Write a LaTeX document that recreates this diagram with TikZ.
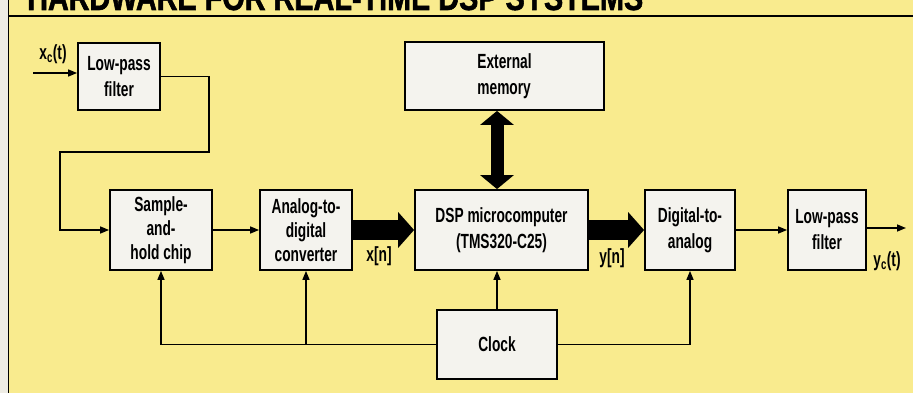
\documentclass[tikz,border=0pt]{standalone}
\usepackage{fontspec}
\newfontfamily\condfont{Liberation Sans}[FakeStretch=0.67]
\newfontfamily\titlefont{Liberation Sans}[FakeStretch=0.8, FakeBold=1.5]
\usetikzlibrary{arrows.meta,calc}
\definecolor{paper}{RGB}{249,235,142}
\definecolor{boxfill}{RGB}{244,243,238}
\definecolor{strip}{RGB}{238,236,228}

\begin{document}
\begin{tikzpicture}[x=1pt, y=-1pt, font=\condfont\bfseries\fontsize{20.5}{26}\selectfont,
		blk/.style={draw, line width=1.8pt, fill=boxfill, align=center, inner sep=0pt},
		sig/.style={line width=1.5pt, -{Triangle[length=9pt,width=7pt]}},
		fat/.style={line width=20pt, -{Triangle[length=16pt,width=35pt]}},
		bus/.style={line width=13pt, {Triangle[length=14pt,width=33pt]}-{Triangle[length=14pt,width=33pt]}}]
		\useasboundingbox (0,0) rectangle (913,393);
		\clip (0,0) rectangle (913,393);
		% page
		\fill[strip] (0,0) rectangle (9,393);
		\fill[paper] (9,0) rectangle (913,393);
		\draw[line width=1.5pt] (8.5,0) -- (8.5,393);
		\draw[line width=1.5pt] (8.5,16) -- (913,16);
		\node[anchor=base west, inner sep=0pt, font=\titlefont\bfseries\fontsize{36}{36}\selectfont] (title) at (27,10) {HARDWARE FOR REAL-TIME DSP SYSTEMS};
		% blocks
		\node[blk, minimum width=82pt, minimum height=67pt] (lpfa) at (119,76.5) {Low-pass\\filter};
		\node[blk, minimum width=199pt, minimum height=68pt, align=left] (mem) at (504.5,76) {External\\memory};
		\node[blk, minimum width=102pt, minimum height=80pt, font=\condfont\bfseries\fontsize{20.5}{24}\selectfont] (sh) at (161,230) {Sample-\\and-\\hold chip};
		\node[blk, minimum width=92pt, minimum height=80pt, font=\condfont\bfseries\fontsize{20.5}{24}\selectfont] (adc) at (306,230) {Analog-to-\\digital\\converter};
		\node[blk, minimum width=173pt, minimum height=80pt] (dsp) at (501.5,230) {DSP microcomputer\\(TMS320-C25)};
		\node[blk, minimum width=90pt, minimum height=80pt] (dac) at (690,230) {Digital-to-\\analog};
		\node[blk, minimum width=78pt, minimum height=80pt] (lpfb) at (827,230) {Low-pass\\filter};
		\node[blk, minimum width=120pt, minimum height=69pt] (clk) at (497,344.5) {Clock};
		% free ends and corners
		\coordinate (xin) at (33,73);
		\coordinate (yout) at (906,228);
		\coordinate (c1) at (209,152);
		\coordinate (c2) at (60,152);
		% signal path
		\node (xc) at (53,54) {x\textsubscript{c}(t)};
		\draw[sig] (xin) -- (xin -| lpfa.west);
		\draw[sig] (lpfa.east) -| (c1) -- (c2) |- (sh.west);
		\draw[sig] (sh) -- (adc);
		\draw[fat] (adc) -- (dsp);
		\node (xn) at (379,256) {x[n]};
		\draw[fat] (dsp) -- (dac);
		\node (yn) at (612,258) {y[n]};
		\draw[sig] (dac) -- (lpfb);
		\draw[sig] (lpfb.east |- yout) -- (yout);
		\node (yc) at (887,261) {y\textsubscript{c}(t)};
		\draw[bus] (mem.south -| clk.north) -- (dsp.north -| clk.north);
		% clock lines
		\draw[sig] (clk.west) -| (sh.south);
		\draw[sig] (clk.west -| adc.south) -- (adc.south);
		\draw[sig] (clk.north) -- (clk.north |- dsp.south);
		\draw[sig] (clk.east) -| (dac.south);
	\end{tikzpicture}
\end{document}
